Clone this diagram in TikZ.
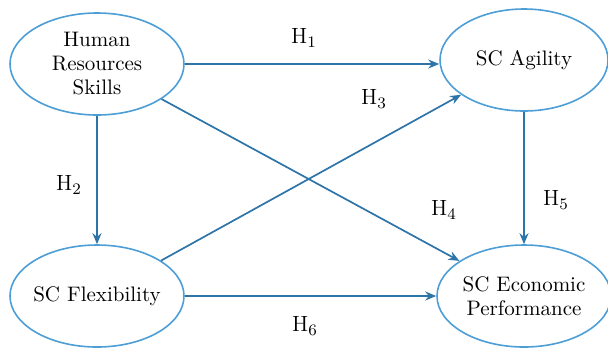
\documentclass[tikz,border=0pt]{standalone}
\usepackage{amsmath}
\usetikzlibrary{shapes.geometric,arrows.meta}

\begin{document}
\begin{tikzpicture}[x=0.5pt, y=-0.5pt,
  construct/.style={ellipse, draw=ellipseblue, line width=0.8pt, fill=white,
    minimum width=87pt, minimum height=51pt, inner sep=0pt, align=center,
    font=\fontsize{10.5}{12}\selectfont},
  path/.style={draw=arrowblue, line width=0.85pt, -{Stealth[length=5.5pt, width=4.5pt]}},
  hyp/.style={font=\fontsize{11}{12}\selectfont, inner sep=0pt}]

\definecolor{ellipseblue}{RGB}{78,158,214}
\definecolor{arrowblue}{RGB}{45,116,168}

\useasboundingbox (0, 0) rectangle (608, 349);

\node[construct] (hrs) at (97, 64) {Human\\Resources\\Skills};
\node[construct, minimum width=84pt] (agility) at (524, 60) {SC Agility};
\node[construct, inner xsep=-2.5pt] (flex) at (97, 296) {SC Flexibility};
\node[construct, inner xsep=-1pt] (econ) at (524, 296) {SC Economic\\Performance};

\draw[path] (hrs.east) -- (hrs.east -| agility.west);
\draw[path] (hrs) -- (flex);
\draw[path] (flex) -- (agility);
\draw[path] (hrs) -- (econ);
\draw[path] (agility) -- (econ);
\draw[path] (flex.east) -- (flex.east -| econ.west);

\node[hyp] (h1) at (304, 38) {H$_1$};
\node[hyp] (h2) at (69, 185) {H$_2$};
\node[hyp] (h3) at (374, 99) {H$_3$};
\node[hyp] (h4) at (444, 210) {H$_4$};
\node[hyp] (h5) at (556, 200) {H$_5$};
\node[hyp] (h6) at (305, 326) {H$_6$};

\end{tikzpicture}
\end{document}
